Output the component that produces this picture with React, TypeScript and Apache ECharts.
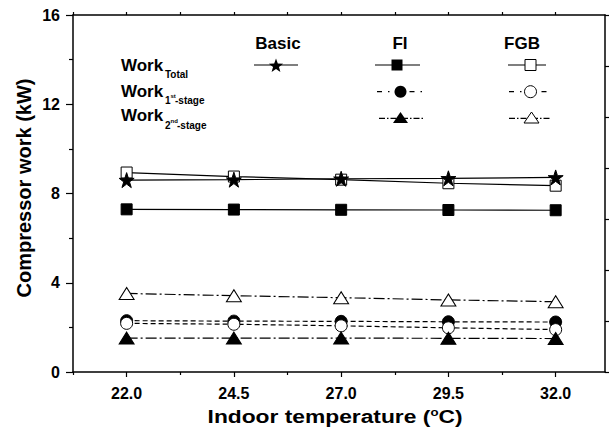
import React, { useEffect, useRef } from "react";
import * as echarts from "echarts";

// ---- data ----
const temperatures = [22.0, 24.5, 27.0, 29.5, 32.0];
const basicTotal = [8.6, 8.62, 8.66, 8.68, 8.72];
const fiTotal = [7.29, 7.28, 7.27, 7.26, 7.25];
const fiStage1 = [2.3, 2.28, 2.27, 2.25, 2.24];
const fiStage2 = [1.52, 1.52, 1.52, 1.51, 1.5];
const fgbTotal = [8.94, 8.76, 8.62, 8.46, 8.35];
const fgbStage1 = [2.18, 2.14, 2.07, 1.98, 1.9];
const fgbStage2 = [3.52, 3.42, 3.33, 3.23, 3.15];

const xMajorTicks = [22.0, 24.5, 27.0, 29.5, 32.0];
const xMinorTicks = [20.75, 23.25, 25.75, 28.25, 30.75];
const yTickStep = 4;

const FONT = "'Liberation Sans', Arial, Helvetica, sans-serif";
const STAR_PATH =
  "path://M50,0L61.8,35.1L98.6,35.1L68.8,56.8L80.2,91.8L50,70.1L19.8,91.8L31.2,56.8L1.4,35.1L38.2,35.1Z";

const DASH = [5, 3];
const DASHDOT = [11, 3, 2, 3];

function starPoints(cx: number, cy: number, R: number, r: number) {
  const pts: number[][] = [];
  for (let i = 0; i < 10; i++) {
    const rad = i % 2 === 0 ? R : r;
    const a = -Math.PI / 2 + (i * Math.PI) / 5;
    pts.push([cx + rad * Math.cos(a), cy + rad * Math.sin(a) + 1]);
  }
  return pts;
}

function triPoints(cx: number, cy: number, w: number, h: number) {
  return [
    [cx, cy - h / 2],
    [cx + w / 2, cy + h / 2],
    [cx - w / 2, cy + h / 2],
  ];
}

function makeSeries(
  name: string,
  values: number[],
  symbol: string,
  size: number | number[],
  filled: boolean,
  dash: any,
  z: number
) {
  return {
    name,
    type: "line",
    data: temperatures.map((t, i) => [t, values[i]]),
    symbol,
    symbolSize: size,
    showAllSymbol: true,
    z,
    lineStyle: { color: "#000", width: 1.2, type: dash },
    itemStyle: {
      color: filled ? "#000" : "#fff",
      borderColor: "#000",
      borderWidth: 1,
      opacity: 1,
    },
    emphasis: { disabled: true },
  };
}

function legendGraphics() {
  const els: any[] = [];
  const bold = { fontFamily: FONT, fontWeight: "bold", fill: "#000" };
  [
    ["Basic", 278],
    ["FI", 400],
    ["FGB", 522],
  ].forEach(([t, x]) => {
    els.push({
      type: "text",
      x: x as number,
      y: 43,
      style: { ...bold, text: t, fontSize: 17, align: "center", verticalAlign: "middle" },
    });
  });
  const rows = [65.7, 91.3, 115.3];
  rows.forEach((y) => {
    els.push({
      type: "text",
      x: 121,
      y,
      style: { ...bold, text: "Work", fontSize: 17, align: "left", verticalAlign: "middle" },
    });
  });
  els.push({ type: "text", x: 165, y: 74, style: { ...bold, text: "Total", fontSize: 10, verticalAlign: "middle" } });
  els.push({ type: "text", x: 165, y: 100, style: { ...bold, text: "1", fontSize: 10, verticalAlign: "middle" } });
  els.push({ type: "text", x: 170.5, y: 96, style: { ...bold, text: "st", fontSize: 6, verticalAlign: "middle" } });
  els.push({ type: "text", x: 175, y: 100.5, style: { ...bold, text: "-stage", fontSize: 10, verticalAlign: "middle" } });
  els.push({ type: "text", x: 165, y: 125, style: { ...bold, text: "2", fontSize: 10, verticalAlign: "middle" } });
  els.push({ type: "text", x: 170.5, y: 121, style: { ...bold, text: "nd", fontSize: 6, verticalAlign: "middle" } });
  els.push({ type: "text", x: 177, y: 125.5, style: { ...bold, text: "-stage", fontSize: 10, verticalAlign: "middle" } });

  const line = (x1: number, x2: number, y: number, dash: any) => ({
    type: "line",
    shape: { x1, y1: y, x2, y2: y },
    style: { stroke: "#000", lineWidth: 1.2, lineDash: dash },
  });
  els.push(line(254, 298, 65, null));
  els.push({ type: "polygon", shape: { points: starPoints(276, 65, 7.5, 3.1) }, style: { fill: "#000" } });
  els.push(line(375, 420, 65, null));
  els.push({ type: "rect", shape: { x: 391.5, y: 59.5, width: 11, height: 11 }, style: { fill: "#000" } });
  els.push(line(508, 546, 65, null));
  els.push({ type: "rect", shape: { x: 525, y: 59.5, width: 11, height: 11 }, style: { fill: "#fff", stroke: "#000", lineWidth: 1 } });
  els.push(line(377, 424, 91.7, [5, 6, 1.5, 20]));
  els.push({ type: "circle", shape: { cx: 400.5, cy: 91.7, r: 6 }, style: { fill: "#000" } });
  els.push(line(509, 548, 91.7, [5, 6, 1.5, 20]));
  els.push({ type: "circle", shape: { cx: 530.5, cy: 91.7, r: 6 }, style: { fill: "#fff", stroke: "#000", lineWidth: 1 } });
  els.push(line(379, 423, 118.3, [6, 2, 1.5, 2]));
  els.push({ type: "polygon", shape: { points: triPoints(400.5, 117.5, 15, 11) }, style: { fill: "#000" } });
  els.push(line(509, 550, 118.3, [6, 2, 1.5, 2]));
  els.push({ type: "polygon", shape: { points: triPoints(531.5, 117.5, 15, 11) }, style: { fill: "#fff", stroke: "#000", lineWidth: 1 } });
  return els;
}

export default function App() {
  const ref = useRef<HTMLDivElement>(null);
  useEffect(() => {
    if (!ref.current) return;
    const chart = echarts.init(ref.current, undefined, { renderer: "svg" });
    const axisLineStyle = { color: "#000", width: 1.5 };
    const tickStyle = { color: "#000", width: 1.2 };
    const option: any = {
      animation: false,
      backgroundColor: "#fff",
      grid: { left: 73, right: 5, top: 15, bottom: 58, containLabel: false },
      xAxis: [
        {
          type: "value",
          position: "bottom",
          min: 20.75,
          max: 33.15,
          axisLine: { show: true, onZero: false, lineStyle: axisLineStyle },
          axisTick: { show: true, customValues: xMajorTicks, length: 5, lineStyle: tickStyle },
          axisLabel: {
            show: true,
            customValues: xMajorTicks,
            formatter: (v: number) => v.toFixed(1),
            fontFamily: FONT,
            fontWeight: "bold",
            fontSize: 16,
            color: "#000",
            margin: 13,
          },
          splitLine: { show: false },
        },
        {
          type: "value",
          position: "bottom",
          min: 20.75,
          max: 33.15,
          axisLine: { show: false, onZero: false },
          axisTick: { show: true, customValues: xMinorTicks, length: 3, lineStyle: tickStyle },
          axisLabel: { show: false },
          splitLine: { show: false },
        },
        {
          type: "value",
          position: "top",
          min: 20.75,
          max: 33.15,
          axisLine: { show: true, onZero: false, lineStyle: axisLineStyle },
          axisTick: {
            show: true,
            customValues: [...xMinorTicks, ...xMajorTicks],
            length: 3,
            lineStyle: tickStyle,
          },
          axisLabel: { show: false },
          splitLine: { show: false },
        },
      ],
      yAxis: [
        {
          type: "value",
          position: "left",
          min: 0,
          max: 16,
          interval: yTickStep,
          axisLine: { show: true, onZero: false, lineStyle: axisLineStyle },
          axisTick: { show: true, length: 7, lineStyle: tickStyle },
          minorTick: { show: true, splitNumber: 2, length: 4, lineStyle: tickStyle },
          axisLabel: {
            show: true,
            fontFamily: FONT,
            fontWeight: "bold",
            fontSize: 16,
            color: "#000",
            margin: 13,
          },
          splitLine: { show: false },
          minorSplitLine: { show: false },
        },
        {
          type: "value",
          position: "right",
          min: 0,
          max: 7,
          interval: 1,
          axisLine: { show: true, onZero: false, lineStyle: axisLineStyle },
          axisTick: { show: true, length: 4, lineStyle: tickStyle },
          axisLabel: { show: false },
          splitLine: { show: false },
        },
      ],
      series: [
        makeSeries("FI 1st-stage", fiStage1, "circle", 12, true, DASH, 2),
        makeSeries("FGB total", fgbTotal, "rect", 11, false, "solid", 3),
        makeSeries("FGB 1st-stage", fgbStage1, "circle", 12, false, DASH, 4),
        makeSeries("FGB 2nd-stage", fgbStage2, "triangle", [15, 12], false, DASHDOT, 5),
        makeSeries("FI total", fiTotal, "rect", 11, true, "solid", 6),
        makeSeries("FI 2nd-stage", fiStage2, "triangle", [15, 12], true, DASHDOT, 7),
        makeSeries("Basic total", basicTotal, STAR_PATH, 15, true, "solid", 8),
      ],
      graphic: {
        elements: [
          {
            type: "text",
            x: 24,
            y: 188,
            rotation: Math.PI / 2,
            style: {
              text: "Compressor work (kW)",
              fontFamily: FONT,
              fontWeight: "bold",
              fontSize: 20,
              fill: "#000",
              align: "center",
              verticalAlign: "middle",
            },
          },
          {
            type: "text",
            x: 335,
            y: 416,
            scaleX: 1.2,
            style: {
              text: "{a|Indoor temperature (}{s|o}{a|C)}",
              align: "center",
              verticalAlign: "middle",
              rich: {
                a: { fontFamily: FONT, fontWeight: "bold", fontSize: 19, fill: "#000", color: "#000" },
                s: {
                  fontFamily: FONT,
                  fontWeight: "bold",
                  fontSize: 11,
                  fill: "#000",
                  color: "#000",
                  verticalAlign: "top",
                },
              },
            },
          },
          ...legendGraphics(),
        ],
      },
    };
    chart.setOption(option);
    return () => chart.dispose();
  }, []);
  return (
    <div
      ref={ref}
      style={{ position: "absolute", left: 0, top: 0, width: 610, height: 430 }}
    />
  );
}
